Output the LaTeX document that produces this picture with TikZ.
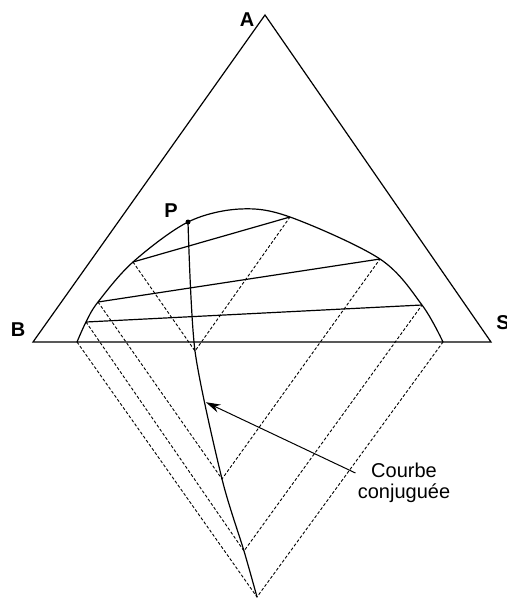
\documentclass[tikz,border=0pt]{standalone}
\usepackage{fontspec}
\setmainfont{Liberation Sans}
\usetikzlibrary{arrows.meta,calc}
\tikzset{
  side/.style={line width=0.6pt},
  tie/.style={line width=0.6pt},
  conj/.style={line width=0.45pt, dash pattern=on 1.5pt off 1pt},
  vertex/.style={font=\bfseries\fontsize{10}{12}\selectfont, inner sep=1pt},
  note/.style={font=\fontsize{10}{10.5}\selectfont, align=center, inner sep=1pt},
  pointer/.style={-{Stealth[length=2.6mm,width=1.5mm]}, line width=0.5pt},
}

\begin{document}
\begin{tikzpicture}[x=0.5pt,y=-0.5pt]
    \useasboundingbox (0,0) rectangle (507,600);
    % triangle
    \coordinate (A) at (265,15);
    \coordinate (B) at (33,342);
    \coordinate (S) at (491,342);
    \draw[side] (B) -- (A) -- (S) -- cycle;
    \node[vertex] (la) at (247,20) {A};
    \node[vertex] (lb) at (18,330) {B};
    \node[vertex] (ls) at (503,323) {S};
    % binodal curve
    \coordinate (L0) at (77,342);
    \coordinate (L1) at (86,322);
    \coordinate (L2) at (98,302);
    \coordinate (L3) at (133,262);
    \coordinate (P) at (188,222);
    \coordinate (T) at (240,209);
    \coordinate (R3) at (290,217);
    \coordinate (R2) at (380,259);
    \coordinate (R1) at (422,305);
    \coordinate (R0) at (443,342);
    \draw[tie] plot[smooth, tension=0.55] coordinates
      {(L0) (L1) (L2) (L3) (P) (T) (R3) (R2) (R1) (R0)};
    \foreach \i in {1,2,3}
      \draw[tie] (L\i) -- (R\i);
    \fill (P) circle (2.5);
    \node[vertex] (lp) at (171,211) {P};
    % conjugate construction
    \coordinate (K0) at (257,597);
    \coordinate (K1) at (244,551);
    \coordinate (K2) at (222,479);
    \coordinate (K3) at (195,351);
    \foreach \i in {0,...,3}
      \draw[conj] (L\i) -- (K\i) -- (R\i);
    \draw[tie] plot[smooth, tension=0.45] coordinates {(P) (K3) (K2) (K1) (K0)};
    \path (K3) -- (K2) coordinate[pos=0.4] (tip);
    \node[note] (lbl) at (404,483) {Courbe\\conjuguée};
    \draw[pointer] ([yshift=5pt]lbl.west) -- (tip);
\end{tikzpicture}
\end{document}
